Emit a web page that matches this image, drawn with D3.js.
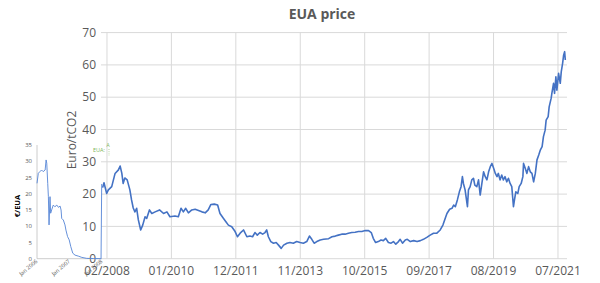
<!DOCTYPE html>
<html>
<head>
<meta charset="utf-8">
<script src="https://cdn.jsdelivr.net/npm/d3@7"></script>
<style>
html,body{margin:0;padding:0;background:#fff;}
svg{display:block;font-family:"Open Sans",sans-serif;}
</style>
</head>
<body>
<svg id="chart" width="600" height="283"></svg>
<script>
// ---- Data (decimal years, € per tonne) ----
const mainYears = [2008.03,2008.07,2008.15,2008.20,2008.30,2008.40,2008.50,2008.55,2008.60,2008.64,2008.69,2008.76,2008.84,2008.89,2008.94,2008.99,2009.04,2009.09,2009.16,2009.22,2009.29,2009.34,2009.42,2009.49,2009.59,2009.72,2009.84,2009.94,2010.03,2010.18,2010.28,2010.36,2010.43,2010.50,2010.58,2010.68,2010.78,2010.88,2010.98,2011.08,2011.17,2011.25,2011.35,2011.45,2011.52,2011.62,2011.69,2011.77,2011.87,2011.97,2012.04,2012.12,2012.22,2012.32,2012.41,2012.49,2012.56,2012.63,2012.71,2012.79,2012.86,2012.91,2012.96,2013.03,2013.11,2013.19,2013.26,2013.34,2013.41,2013.51,2013.60,2013.70,2013.80,2013.90,2014.00,2014.10,2014.18,2014.25,2014.32,2014.40,2014.50,2014.60,2014.75,2014.85,2014.95,2015.04,2015.14,2015.24,2015.34,2015.44,2015.54,2015.64,2015.74,2015.84,2015.94,2016.02,2016.08,2016.15,2016.23,2016.31,2016.38,2016.45,2016.53,2016.61,2016.68,2016.75,2016.83,2016.88,2016.95,2017.03,2017.09,2017.18,2017.28,2017.38,2017.48,2017.57,2017.67,2017.77,2017.87,2017.97,2018.07,2018.15,2018.22,2018.27,2018.35,2018.42,2018.47,2018.52,2018.58,2018.64,2018.69,2018.73,2018.76,2018.81,2018.88,2018.91,2018.96,2019.01,2019.06,2019.10,2019.16,2019.21,2019.26,2019.31,2019.36,2019.41,2019.46,2019.51,2019.56,2019.61,2019.66,2019.71,2019.76,2019.80,2019.85,2019.90,2019.95,2020.00,2020.05,2020.10,2020.15,2020.20,2020.25,2020.28,2020.32,2020.38,2020.42,2020.48,2020.53,2020.55,2020.60,2020.65,2020.70,2020.75,2020.80,2020.85,2020.90,2020.95,2021.00,2021.05,2021.10,2021.14,2021.19,2021.22,2021.28,2021.31,2021.37,2021.39,2021.44,2021.47,2021.51,2021.54,2021.59,2021.64,2021.67,2021.71,2021.74,2021.77,2021.79];
const mainPrices = [22.0,23.5,20.2,21.3,22.3,26.4,27.5,28.7,26.5,23.3,25.0,24.4,21.3,18.2,15.7,14.5,15.6,12.0,8.9,10.4,13.0,12.5,15.1,14.0,14.5,15.1,14.0,14.5,13.0,13.2,13.0,15.6,14.5,15.6,14.2,15.1,15.3,14.9,14.5,14.2,15.1,16.8,16.9,16.6,14.0,12.5,11.5,10.4,9.9,8.4,6.8,7.9,8.9,6.8,7.0,6.8,8.1,7.3,8.1,7.6,8.1,8.9,6.8,5.3,4.8,5.0,4.2,3.2,4.2,4.8,5.0,4.8,5.3,5.0,4.8,5.3,7.0,6.0,4.8,5.3,5.8,6.0,6.2,6.8,7.0,7.3,7.6,7.6,7.9,8.1,8.2,8.4,8.4,8.7,8.7,8.1,6.3,5.0,5.3,5.8,5.6,6.3,5.0,4.8,5.3,4.5,5.3,6.0,4.8,5.8,6.0,5.3,5.6,5.3,5.6,6.0,6.6,7.3,7.9,7.9,8.9,10.4,12.5,14.0,15.3,15.6,16.6,16.1,18.2,20.7,22.3,25.4,23.3,21.3,16.1,21.3,22.3,24.4,24.9,22.8,22.3,24.4,19.7,23.3,26.9,25.4,24.4,26.9,28.5,29.5,28.0,26.4,25.4,26.4,24.4,25.9,24.4,25.4,23.8,24.9,23.3,22.3,16.1,18.2,20.7,20.2,22.3,23.3,25.4,29.5,28.0,26.4,28.5,26.9,26.4,23.8,26.4,30.6,32.1,33.7,34.7,37.8,39.8,42.9,44.0,47.0,49.7,51.2,54.3,51.2,56.3,52.2,57.4,54.3,57.9,60.5,63.0,64.1,61.5];

const phase1Years = [2006.00,2006.04,2006.09,2006.14,2006.19,2006.25,2006.28,2006.30,2006.33,2006.35,2006.37,2006.40,2006.42,2006.45,2006.50,2006.55,2006.61,2006.66,2006.71,2006.74,2006.76,2006.81,2006.86,2006.89,2006.94,2006.99,2007.04,2007.10,2007.17,2007.27,2007.38,2007.53,2007.73,2007.94,2007.97,2007.99];
const phase1Prices = [23.2,26.3,26.8,27.3,26.8,27.3,30.4,29.4,23.2,19.1,10.4,19.1,14.0,15.0,16.5,16.0,16.5,15.8,16.2,15.0,12.4,11.9,10.4,8.8,6.8,5.8,3.7,1.7,1.1,0.8,0.4,0.1,0.05,0.02,0.02,23.0];

const yTicksMain = [0,10,20,30,40,50,60,70];
const xTickLabelsMain = ["02/2008","01/2010","12/2011","11/2013","10/2015","09/2017","08/2019","07/2021"];
const yTicksSmall = [0,5,10,15,20,25,30,35];
const xTickLabelsSmall = ["Jan 2006","Jan 2007","Jan 2008"];

const title = "EUA price";
const yTitleMain = "Euro/tCO2";
const yTitleSmall = "€/EUA";

// ---- helpers ----
function yearToDate(t){
  const y = Math.floor(t);
  const start = new Date(y,0,1);
  return new Date(start.getTime() + (t - y) * 365.25 * 86400000);
}
const DAY = 86400000;

const svg = d3.select("#chart");
const grey = "#595959";
const gridC = "#d9d9d9";
const lineC = "#4472C4";

// ---- Main chart scales ----
const xMain = d3.scaleTime()
  .domain([new Date(2008,0,5), new Date(2021,10,4)])
  .range([102, 567]);
const yMain = d3.scaleLinear().domain([0,70]).range([258.7, 32.6]);
const tickStart = new Date(2008,1,28);
const xTickDates = xTickLabelsMain.map((_,i)=> new Date(tickStart.getTime() + i*700*DAY));

// gridlines
svg.append("g").selectAll("line.h").data(yTicksMain).join("line")
  .attr("x1",101).attr("x2",567)
  .attr("y1",d=>yMain(d)).attr("y2",d=>yMain(d))
  .attr("stroke",gridC).attr("stroke-width",1);
svg.append("g").selectAll("line.v").data(xTickDates).join("line")
  .attr("x1",d=>xMain(d)).attr("x2",d=>xMain(d))
  .attr("y1",yMain(70)).attr("y2",yMain(0))
  .attr("stroke",gridC).attr("stroke-width",1);

// y labels
svg.append("g").selectAll("text").data(yTicksMain).join("text")
  .attr("x",96).attr("y",d=>yMain(d)).attr("dy","0.35em")
  .attr("text-anchor","end").attr("font-size",12).attr("fill",grey)
  .text(d=>d);
// x labels
svg.append("g").selectAll("text").data(xTickDates).join("text")
  .attr("x",d=>xMain(d)).attr("y",275)
  .attr("text-anchor","middle").attr("font-size",12).attr("fill",grey)
  .text((d,i)=>xTickLabelsMain[i]);

// title & axis title
svg.append("text").attr("x",322).attr("y",19).attr("text-anchor","middle")
  .attr("font-size",14).attr("font-weight","bold").attr("fill",grey).text(title);
svg.append("text").attr("transform","translate(76,140) rotate(-90)")
  .attr("text-anchor","middle").attr("font-size",12).attr("fill",grey).text(yTitleMain);

// ---- Inset Phase I chart ----
const xSmall = d3.scaleTime().domain([new Date(2006,0,1), new Date(2008,0,1)]).range([37,102]);
const ySmall = d3.scaleLinear().domain([0,35]).range([258.7,145]);
svg.append("line").attr("x1",37).attr("x2",37).attr("y1",ySmall(35)).attr("y2",ySmall(0))
  .attr("stroke","#bfbfbf").attr("stroke-width",0.8);
svg.append("line").attr("x1",37).attr("x2",102).attr("y1",ySmall(0)).attr("y2",ySmall(0))
  .attr("stroke","#bfbfbf").attr("stroke-width",0.8);
svg.append("g").selectAll("text").data(yTicksSmall).join("text")
  .attr("x",32).attr("y",d=>ySmall(d)).attr("dy","0.35em")
  .attr("text-anchor","end").attr("font-size",6).attr("fill",grey).text(d=>d);
svg.append("g").selectAll("text").data(xTickLabelsSmall).join("text")
  .attr("transform",(d,i)=>`translate(${xSmall(new Date(2006+i,0,1))+1},${262}) rotate(-40)`)
  .attr("text-anchor","end").attr("font-size",5.5).attr("fill",grey).text(d=>d);
svg.append("text").attr("transform","translate(20,206) rotate(-90)")
  .attr("text-anchor","middle").attr("font-size",7.5).attr("font-weight","bold").attr("fill","#000").text(yTitleSmall);
const smallData = phase1Years.map((t,i)=>({d:yearToDate(t), v:phase1Prices[i]}));
svg.append("path").datum(smallData)
  .attr("fill","none").attr("stroke","#5585d6").attr("stroke-width",0.9)
  .attr("d", d3.line().x(d=>xSmall(d.d)).y(d=>ySmall(d.v)));

// annotation
svg.append("text").attr("x",93).attr("y",152).attr("font-size",5.5).attr("fill","#7cb55a").text("EUA:");
svg.append("text").attr("x",106.5).attr("y",147).attr("font-size",5).attr("fill","#7cb55a").text("A");
svg.append("line").attr("x1",109).attr("x2",109).attr("y1",149).attr("y2",156)
  .attr("stroke","#7cb55a").attr("stroke-width",0.6).attr("stroke-dasharray","1,1.2");

// ---- Main line ----
const mainData = mainYears.map((t,i)=>({d:yearToDate(t), v:mainPrices[i]}));
svg.append("path").datum(mainData)
  .attr("fill","none").attr("stroke",lineC).attr("stroke-width",1.6).attr("stroke-linejoin","round")
  .attr("d", d3.line().x(d=>xMain(d.d)).y(d=>yMain(d.v)));
</script>
</body>
</html>
